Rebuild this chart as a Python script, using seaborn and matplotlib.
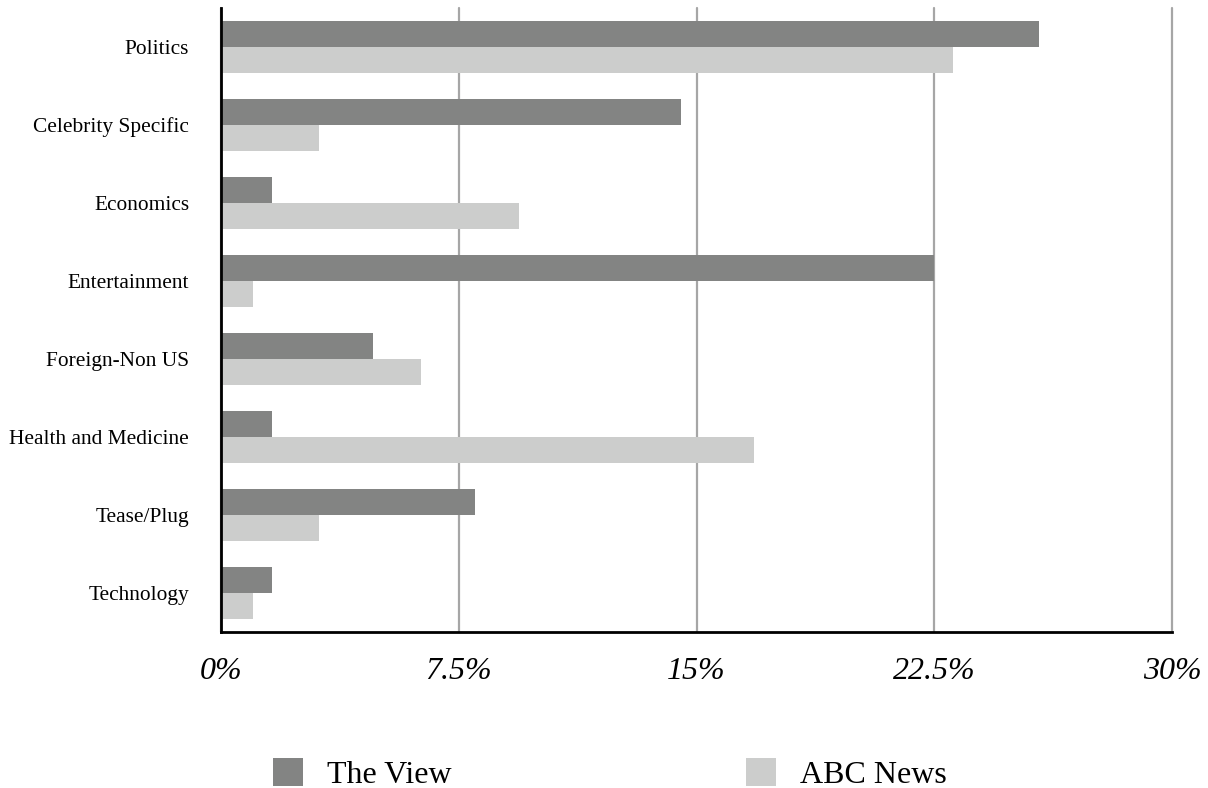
import pandas as pd
import matplotlib.pyplot as plt
import seaborn as sns
from matplotlib.patches import Patch

# Data (share of stories, %)
categories = ["Politics", "Celebrity Specific", "Economics", "Entertainment",
              "Foreign-Non US", "Health and Medicine", "Tease/Plug", "Technology"]
the_view = [25.8, 14.5, 1.6, 22.5, 4.8, 1.6, 8.0, 1.6]
abc_news = [23.1, 3.1, 9.4, 1.0, 6.3, 16.8, 3.1, 1.0]
series = ["The View", "ABC News"]
x_ticks = [0, 7.5, 15, 22.5, 30]
x_labels = ["0%", "7.5%", "15%", "22.5%", "30%"]

colors = {"The View": "#838483", "ABC News": "#cccdcc"}

df = pd.DataFrame({
    "category": categories * 2,
    "value": the_view + abc_news,
    "source": [series[0]] * len(categories) + [series[1]] * len(categories),
})

sns.set_style("white")
plt.rcParams["font.family"] = ["Liberation Serif", "DejaVu Serif"]
plt.rcParams["text.color"] = "black"
plt.rcParams["xtick.color"] = "black"
plt.rcParams["ytick.color"] = "black"

fig = plt.figure(figsize=(12.08, 7.88), dpi=100)
ax = fig.add_axes([221 / 1208, 1 - 632 / 788, (1172 - 221) / 1208, (632 - 8) / 788])

sns.barplot(data=df, x="value", y="category", hue="source", order=categories,
            hue_order=series, palette=colors, orient="h", width=0.66,
            saturation=1, linewidth=0, ax=ax, legend=False)

ax.set_xlim(0, 30)
ax.set_ylim(len(categories) - 0.5, -0.5)
ax.set_xticks(x_ticks)
ax.set_xticklabels(x_labels, fontsize=23, fontstyle="italic")
ax.tick_params(axis="x", length=0, pad=18)
ax.tick_params(axis="y", length=0, pad=23, labelsize=15.4)
ax.set_xlabel("")
ax.set_ylabel("")

# vertical gridlines
ax.set_axisbelow(True)
ax.xaxis.grid(True, color="#a6a6a6", linewidth=1.6)
ax.yaxis.grid(False)
for gl in ax.get_xgridlines():
    gl.set_clip_on(False)

for side in ["top", "right"]:
    ax.spines[side].set_visible(False)
for side in ["left", "bottom"]:
    ax.spines[side].set_color("black")
    ax.spines[side].set_linewidth(2)

handles = [Patch(facecolor=colors[s], edgecolor="none", label=s) for s in series]
fig.legend(handles=handles, loc="center", bbox_to_anchor=(0.505, 1 - 774 / 788),
           ncol=2, frameon=False, fontsize=23, handlelength=0.95, handleheight=0.95,
           handletextpad=0.75, columnspacing=9.2)

fig.savefig("out.png", dpi=100)
